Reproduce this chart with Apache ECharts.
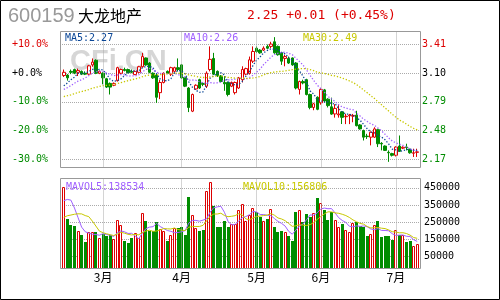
<!DOCTYPE html>
<html>
<head>
<meta charset="utf-8">
<script src="https://cdn.jsdelivr.net/npm/echarts@6/dist/echarts.min.js"></script>
<style>
html, body { margin: 0; padding: 0; background: #fff; }
#chart { width: 500px; height: 300px; }
</style>
</head>
<body>
<div id="chart"></div>
<script>
// trading days per month (Feb..Jul)
var tradingDays = [
    ['02', [7, 8, 9, 12, 13, 14, 15, 16, 26, 27, 28]],
    ['03', [1, 2, 5, 6, 7, 8, 9, 12, 13, 14, 15, 16, 19, 20, 21, 22, 23, 26, 27, 28, 29, 30]],
    ['04', [2, 3, 4, 5, 6, 9, 10, 11, 12, 13, 16, 17, 18, 19, 20, 23, 24, 25, 26, 27, 30]],
    ['05', [8, 9, 10, 11, 14, 15, 16, 17, 18, 21, 22, 23, 24, 25, 28, 29, 30, 31]],
    ['06', [1, 4, 5, 6, 7, 8, 11, 12, 13, 14, 15, 18, 19, 20, 21, 22, 25, 26, 27, 28, 29]],
    ['07', [2, 3, 4, 5, 6, 9, 10]]
];
var monthStarts = [11, 33, 54, 72, 93];
var monthLabels = ['3月', '4月', '5月', '6月', '7月'];

var opens = [3.075, 3.08, 3.12, 3.14, 3.11, 3.12, 3.10, 3.09, 3.19, 3.24,
    3.10, 3.10, 3.04, 2.99, 2.97, 3.02, 3.10, 3.14, 3.14, 3.12,
    3.085, 3.11, 3.17, 3.265, 3.21, 3.10, 3.08, 2.89, 3.00, 3.12,
    3.09, 3.12, 3.16, 3.19, 3.055, 2.94, 2.69, 2.93, 3.03, 2.99,
    2.96, 3.14, 3.26, 3.12, 3.07, 3.00, 3.00, 2.96, 2.89, 2.94,
    3.03, 3.09, 3.10, 3.23, 3.37, 3.35, 3.35, 3.39, 3.39, 3.44,
    3.39, 3.32, 3.26, 3.26, 3.265, 3.21, 2.925, 3.01, 3.03, 2.87,
    2.73, 2.84, 2.78, 2.92, 2.82, 2.737, 2.66, 2.65, 2.683, 2.63,
    2.64, 2.636, 2.647, 2.541, 2.48, 2.42, 2.409, 2.409, 2.49, 2.342,
    2.313, 2.245, 2.231, 2.213, 2.313, 2.29, 2.302, 2.277, 2.235, 2.245];
var closes = [3.11, 3.05, 3.11, 3.10, 3.13, 3.09, 3.09, 3.18, 3.22, 3.10,
    3.12, 3.05, 2.95, 2.95, 2.99, 3.16, 3.14, 3.13, 3.105, 3.11,
    3.12, 3.17, 3.28, 3.19, 3.11, 3.05, 2.84, 3.00, 3.10, 3.10,
    3.16, 3.16, 3.14, 3.05, 2.96, 2.73, 2.87, 2.97, 2.94, 2.98,
    3.10, 3.25, 3.09, 3.075, 3.01, 2.985, 2.87, 3.00, 3.00, 3.05,
    3.14, 3.15, 3.245, 3.335, 3.335, 3.32, 3.37, 3.37, 3.415, 3.32,
    3.30, 3.23, 3.28, 3.21, 3.19, 2.94, 3.01, 2.995, 2.87, 2.73,
    2.77, 2.71, 2.925, 2.80, 2.75, 2.658, 2.72, 2.66, 2.623, 2.635,
    2.648, 2.644, 2.533, 2.498, 2.409, 2.415, 2.462, 2.498, 2.338, 2.336,
    2.266, 2.24, 2.213, 2.302, 2.256, 2.30, 2.298, 2.24, 2.24, 2.25];
var lows = [3.06, 3.02, 3.09, 3.09, 3.07, 3.08, 3.08, 3.08, 3.17, 3.09,
    3.09, 2.98, 2.94, 2.87, 2.96, 3.01, 3.09, 3.12, 3.10, 3.10,
    3.08, 3.10, 3.16, 3.18, 3.10, 3.04, 2.78, 2.82, 2.99, 3.09,
    3.07, 3.11, 3.12, 3.04, 2.95, 2.68, 2.68, 2.92, 2.93, 2.96,
    2.94, 3.12, 3.08, 3.06, 3.00, 2.91, 2.85, 2.95, 2.87, 2.93,
    3.00, 3.08, 3.085, 3.21, 3.32, 3.31, 3.34, 3.36, 3.37, 3.31,
    3.29, 3.19, 3.175, 3.20, 3.18, 2.925, 2.87, 2.98, 2.86, 2.71,
    2.70, 2.70, 2.76, 2.79, 2.73, 2.65, 2.62, 2.62, 2.551, 2.55,
    2.55, 2.57, 2.525, 2.49, 2.373, 2.39, 2.32, 2.40, 2.302, 2.266,
    2.26, 2.142, 2.20, 2.20, 2.25, 2.28, 2.266, 2.23, 2.195, 2.195];
var highs = [3.14, 3.09, 3.14, 3.15, 3.15, 3.13, 3.12, 3.19, 3.26, 3.25,
    3.13, 3.11, 3.05, 3.00, 3.00, 3.17, 3.15, 3.16, 3.15, 3.14,
    3.13, 3.18, 3.32, 3.27, 3.22, 3.11, 3.09, 3.03, 3.11, 3.13,
    3.17, 3.17, 3.26, 3.20, 3.06, 2.95, 2.88, 2.98, 3.04, 3.00,
    3.12, 3.39, 3.32, 3.13, 3.08, 3.07, 3.01, 3.01, 3.01, 3.06,
    3.175, 3.16, 3.28, 3.39, 3.39, 3.36, 3.39, 3.41, 3.44, 3.49,
    3.40, 3.33, 3.30, 3.28, 3.27, 3.22, 3.02, 3.03, 3.04, 2.88,
    2.78, 2.85, 2.94, 2.93, 2.83, 2.836, 2.765, 2.765, 2.69, 2.66,
    2.66, 2.66, 2.694, 2.55, 2.49, 2.445, 2.47, 2.516, 2.50, 2.355,
    2.32, 2.266, 2.24, 2.31, 2.427, 2.31, 2.338, 2.285, 2.284, 2.284];
var volumes = [452500, 266800, 235900, 226200, 201100, 177900, 133400, 195300, 195300, 191400,
    156600, 181700, 168200, 175900, 152700, 264900, 235900, 143100, 127600, 156600,
    187500, 156600, 303600, 259100, 201100, 201100, 253300, 210800, 201100, 143100,
    177900, 214600, 214600, 224300, 175900, 394500, 292000, 216600, 201100, 206900,
    433200, 485400, 346100, 224300, 224300, 259100, 224300, 239800, 239800, 321000,
    355800, 259100, 292000, 332600, 311300, 278400, 259100, 268800, 326800, 224300,
    195300, 201100, 191400, 172100, 143100, 311300, 321000, 249400, 297800, 282300,
    303600, 390600, 361600, 322900, 263000, 307500, 264900, 224300, 241700, 206900,
    195300, 247500, 253300, 226200, 220400, 172100, 181700, 233900, 257200, 166300,
    172100, 172100, 148900, 206390, 175900, 177000, 133400, 143100, 114000, 125170];
// sessions before the visible window, only used for the moving averages
var preCloses = [2.78, 2.80, 2.76, 2.74, 2.77, 2.80, 2.83, 2.81, 2.79, 2.82,
    2.84, 2.86, 2.83, 2.80, 2.82, 2.85, 2.83, 2.80, 2.82, 2.84,
    2.86, 2.88, 2.85, 2.90, 2.94, 2.90, 2.93, 2.96, 2.92];
var preVolumes = [170000, 195000, 180000, 175000, 185000, 230000, 257500, 455000, 480000];

var basePrice = 3.10;
var priceTicks = [2.17, 2.48, 2.79, 3.10, 3.41];
var volTicks = [50000, 150000, 250000, 350000, 450000];

var RED = '#dd0000', GREEN = '#008c00';
var C_MA5 = '#0a4696', C_MA10 = '#a060ff', C_MA30 = '#c8c800';

var dates = [];
tradingDays.forEach(function (m) {
    m[1].forEach(function (d) { dates.push(m[0] + '-' + (d < 10 ? '0' + d : d)); });
});

function movingAvg(pre, vals, n, digits) {
    var all = pre.concat(vals), out = [];
    for (var i = 0; i < vals.length; i++) {
        var end = pre.length + i, s = 0;
        for (var k = end - n + 1; k <= end; k++) s += all[k];
        out.push(+(s / n).toFixed(digits));
    }
    return out;
}

var kdata = [];
for (var n = 0; n < dates.length; n++) {
    kdata.push([opens[n], closes[n], lows[n], highs[n]]);
}
var volData = volumes.map(function (v, i) { return [i, v]; });

function renderVol(params, api) {
    var i = api.value(0);
    var pt = api.coord([i, api.value(1)]);
    var cs = params.coordSys;
    var base = cs.y + cs.height;
    var x0 = Math.round(pt[0] - 1.5);
    var top = Math.round(pt[1]);
    if (closes[i] >= opens[i]) {
        return {
            type: 'rect',
            shape: {x: x0 + 0.5, y: top + 0.5, width: 2, height: base - top - 0.5},
            style: {fill: '#fff', stroke: RED, lineWidth: 1}
        };
    }
    return {
        type: 'rect',
        shape: {x: x0, y: top, width: 3, height: base - top},
        style: {fill: GREEN}
    };
}

function priceColor(v) {
    v = +v;
    if (v > basePrice + 1e-6) return RED;
    if (v < basePrice - 1e-6) return GREEN;
    return '#000';
}

var monthLines = {
    silent: true,
    symbol: 'none',
    label: {show: false},
    lineStyle: {color: '#aaa', type: 'dotted', width: 1},
    data: monthStarts.map(function (i) { return {xAxis: dates[i]}; })
};

function text(x, y, str, color, font) {
    return {
        type: 'text', x: x, y: y, z: 100,
        style: {text: str, fill: color, font: font, textVerticalAlign: 'middle'}
    };
}

var chart = echarts.init(document.getElementById('chart'));
var option = {
    animation: false,
    backgroundColor: '#fff',
    grid: [
        {left: 62, width: 357, top: 31.5, height: 136},
        {left: 62, width: 357, top: 178.5, height: 90}
    ],
    xAxis: [
        {
            type: 'category', gridIndex: 0, data: dates, boundaryGap: true,
            axisLine: {show: false}, axisTick: {show: false}, axisLabel: {show: false},
            splitLine: {show: false}
        },
        {
            type: 'category', gridIndex: 1, data: dates, boundaryGap: true,
            axisLine: {show: false}, axisTick: {show: false},
            splitLine: {show: false},
            axisLabel: {
                margin: 3,
                color: '#000',
                fontSize: 12,
                fontFamily: 'Noto Sans CJK SC',
                interval: function (index) { return monthStarts.indexOf(index) >= 0; },
                formatter: function (value, index) {
                    var k = monthStarts.indexOf(index);
                    return k >= 0 ? monthLabels[k] : '';
                }
            }
        }
    ],
    yAxis: [
        {
            type: 'value', gridIndex: 0, position: 'left', min: 2.081, max: 3.551,
            axisLine: {show: false},
            axisTick: {show: false, customValues: priceTicks},
            axisLabel: {
                customValues: priceTicks, align: 'left', margin: 50,
                fontFamily: 'DejaVu Sans Mono', fontSize: 10,
                color: priceColor,
                formatter: function (v) {
                    var p = (v - basePrice) / basePrice * 100;
                    var s = Math.abs(p).toFixed(1);
                    return (p > -0.05 ? '+' : '-') + s + '%';
                }
            },
            splitLine: {show: true, lineStyle: {color: '#aaa', type: 'dotted', width: 1}}
        },
        {
            type: 'value', gridIndex: 0, position: 'right', min: 2.081, max: 3.551,
            axisLine: {show: false},
            axisTick: {show: false, customValues: priceTicks},
            axisLabel: {
                customValues: priceTicks, margin: 3,
                fontFamily: 'DejaVu Sans Mono', fontSize: 10,
                color: priceColor,
                formatter: function (v) { return (+v).toFixed(2); }
            },
            splitLine: {show: false}
        },
        {
            type: 'value', gridIndex: 1, position: 'right', min: -18550, max: 503800,
            axisLine: {show: false},
            axisTick: {show: false, customValues: volTicks},
            axisLabel: {
                customValues: volTicks, margin: 5,
                fontFamily: 'DejaVu Sans Mono', fontSize: 10, color: '#000',
                formatter: function (v) { return String(Math.round(v)); }
            },
            splitLine: {show: true, lineStyle: {color: '#aaa', type: 'dotted', width: 1}}
        }
    ],
    series: [
        {
            name: 'K', type: 'candlestick', xAxisIndex: 0, yAxisIndex: 0,
            data: kdata, barWidth: 3,
            itemStyle: {color: '#fff', color0: GREEN, borderColor: RED, borderColor0: GREEN, borderWidth: 1},
            markLine: monthLines
        },
        {
            name: 'MA5', type: 'line', xAxisIndex: 0, yAxisIndex: 0, symbol: 'none',
            data: movingAvg(preCloses, closes, 5, 3),
            lineStyle: {color: C_MA5, width: 1.3, type: [1.3, 1.8]}
        },
        {
            name: 'MA10', type: 'line', xAxisIndex: 0, yAxisIndex: 0, symbol: 'none',
            data: movingAvg(preCloses, closes, 10, 3),
            lineStyle: {color: C_MA10, width: 1.3, type: [1.3, 1.8]}
        },
        {
            name: 'MA30', type: 'line', xAxisIndex: 0, yAxisIndex: 0, symbol: 'none',
            data: movingAvg(preCloses, closes, 30, 3),
            lineStyle: {color: C_MA30, width: 1.3, type: [1.3, 1.8]}
        },
        {
            name: 'VOL', type: 'custom', xAxisIndex: 1, yAxisIndex: 2,
            data: volData, renderItem: renderVol,
            encode: {x: 0, y: 1}
        },
        {
            name: 'MAVOL5', type: 'line', xAxisIndex: 1, yAxisIndex: 2, symbol: 'none',
            data: movingAvg(preVolumes, volumes, 5, 0),
            lineStyle: {color: C_MA10, width: 1},
            markLine: monthLines
        },
        {
            name: 'MAVOL10', type: 'line', xAxisIndex: 1, yAxisIndex: 2, symbol: 'none',
            data: movingAvg(preVolumes, volumes, 10, 0),
            lineStyle: {color: C_MA30, width: 1}
        }
    ],
    graphic: [
        {
            type: 'text', x: 70, y: 62, z: 1,
            style: {text: 'CFi.CN', fill: '#d6d6d6', font: 'bold 29px "Liberation Sans"', textVerticalAlign: 'middle'}
        },
        {type: 'rect', z: 100, shape: {x: 0.5, y: 0.5, width: 499, height: 299}, style: {fill: 'none', stroke: '#000', lineWidth: 1}},
        {type: 'rect', z: 100, shape: {x: 60.5, y: 31.5, width: 360, height: 136}, style: {fill: 'none', stroke: '#999', lineWidth: 1}},
        {type: 'rect', z: 100, shape: {x: 60.5, y: 178.5, width: 360, height: 90}, style: {fill: 'none', stroke: '#999', lineWidth: 1}},
        text(8, 16.5, '600159', '#999', '20px "Liberation Sans"'),
        text(78, 15.5, '大龙地产', '#000', '16px "Noto Sans CJK SC"'),
        text(247, 15.5, '2.25 +0.01 (+0.45%)', RED, '13px "DejaVu Sans Mono"'),
        text(65, 38.5, 'MA5:2.27', C_MA5, '10px "DejaVu Sans Mono"'),
        text(184, 38.5, 'MA10:2.26', C_MA10, '10px "DejaVu Sans Mono"'),
        text(303, 38.5, 'MA30:2.49', C_MA30, '10px "DejaVu Sans Mono"'),
        text(66, 187, 'MAVOL5:138534', C_MA10, '10px "DejaVu Sans Mono"'),
        text(243, 187, 'MAVOL10:156806', C_MA30, '10px "DejaVu Sans Mono"')
    ]
};
chart.setOption(option);
</script>
</body>
</html>
